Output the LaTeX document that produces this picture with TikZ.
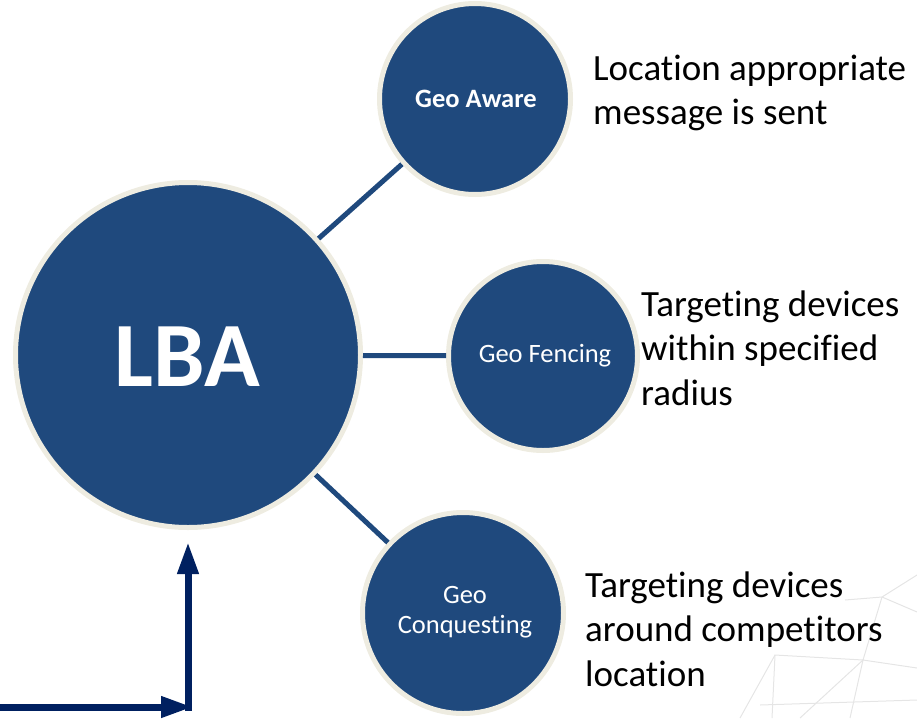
\documentclass[tikz,border=0pt]{standalone}
\usepackage{fontspec}
\setmainfont{Carlito}[Ligatures=NoCommon]
\usetikzlibrary{arrows.meta}

\definecolor{lbablue}{RGB}{31,73,125}
\definecolor{lbarim}{RGB}{238,236,225}
\definecolor{lbanavy}{RGB}{0,32,96}

\tikzset{
  bubble/.style={circle,fill=lbablue,draw=lbarim,line width=5pt,inner sep=0pt,text=white},
  spoke/.style={draw=lbablue,line width=5pt},
  note/.style={anchor=base west,align=left,inner sep=0pt,font=\fontsize{37}{44.5}\selectfont},
  mesh/.style={draw=black!10,line width=1pt}
}

\begin{document}
\begin{tikzpicture}[x=1pt,y=-1pt]
\useasboundingbox (0,0) rectangle (917,718);

% faint background mesh
\draw[mesh] (845,600) -- (882,597) -- (917,612);
\draw[mesh] (882,597) -- (863,660) -- (917,668);
\draw[mesh] (863,660) -- (775,655) -- (740,718);
\draw[mesh] (863,660) -- (800,718);
\draw[mesh] (863,660) -- (850,718);
\draw[mesh] (775,655) -- (772,718);
\draw[mesh] (760,705) -- (917,700);
\draw[mesh] (882,597) -- (917,575);

\node[bubble,minimum size=345pt] (lba) at (188,355) {};
\node[bubble,minimum size=191pt] (aware) at (475,99) {};
\node[bubble,minimum size=189pt] (fencing) at (543,356) {};
\node[bubble,minimum size=201pt] (conquest) at (463,613) {};

\draw[spoke] (lba) -- (aware);
\draw[spoke] (lba) -- (fencing);
\draw[spoke] (lba) -- (conquest);

\node[text=white,font=\fontsize{92}{100}\selectfont\bfseries] (lbatext) at (187,357) {LBA};
\node[text=white,font=\fontsize{26.5}{30}\selectfont\bfseries] (awaretext) at (476,99) {Geo Aware};
\node[text=white,anchor=base,font=\fontsize{26.5}{30}\selectfont] (fencingtext) at (545,362) {Geo Fencing};
\node[text=white,anchor=base,align=center,inner sep=0pt,font=\fontsize{26.5}{30}\selectfont] (conquesttext) at (465,633) {Geo\\Conquesting};

% base = last line
\node[note] (awarenote) at (593,124.5) {Location appropriate\\message is sent};
\node[note] (fencingnote) at (641,405) {Targeting devices\\within specified\\radius};
\node[note] (conquestnote) at (585,686) {Targeting devices\\around competitors\\location};

\coordinate (start) at (0,707);
\coordinate (corner) at (193,707);
\coordinate (bend) at (188,711);
\coordinate (tip) at (188,542);
\draw[lbanavy,line width=7pt,-{Triangle[length=32pt,width=20pt]}] (start) -- (corner);
\draw[lbanavy,line width=7pt,-{Triangle[length=32pt,width=20pt]}] (bend) -- (tip);
\end{tikzpicture}
\end{document}
